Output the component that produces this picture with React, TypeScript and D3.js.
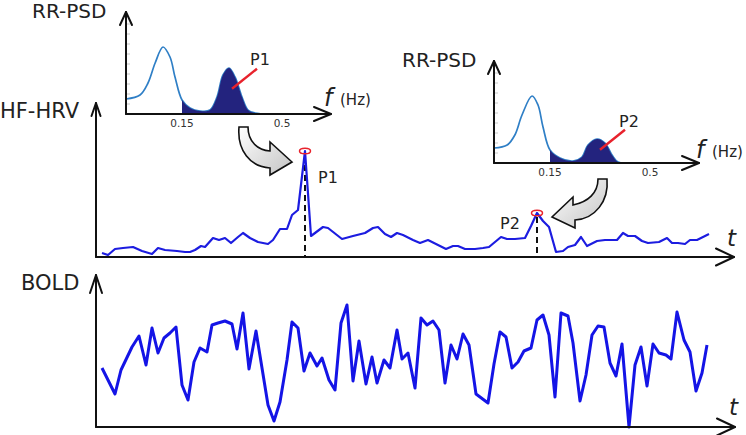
import React from "react";
import * as d3 from "d3";

// ---------- data ----------
const hrvTime = [6,12,19,27,37,46,56,62,69,81,89,94,99,105,109,117,123,129,135,142,147,154,162,172,177,184,191,196,202,209,215,227,232,246,257,269,277,282,289,295,301,307,317,324,332,342,350,357,362,369,379,387,393,399,405,411,419,429,435,441,447,453,460,467,472,479,485,491,501,509,521,527,532,539,546,552,563,571,576,582,589,594,601,607,613];
const hrvValue = [4,2,8,9,10,6,3,9,7,6,5,5,7,11,10,19,17,19,14,20,24,19,15,13,17,28,28,42,47,106,21,30,29,18,21,24,29,30,23,20,24,22,17,14,17,12,8,11,11,8,8,9,10,15,20,18,18,19,31,44,36,30,5,6,10,12,20,11,16,17,17,24,21,21,16,14,15,19,14,14,13,17,17,20,23];

const boldTime = [6,19,25,36,43,50,56,62,68,74,80,86,92,98,104,111,116,122,129,136,141,147,153,160,166,172,178,184,191,196,202,208,214,221,226,233,239,245,251,257,263,270,276,281,288,294,301,306,312,319,325,331,337,343,349,355,361,367,373,380,392,398,404,410,416,422,428,435,441,447,453,459,465,472,477,484,490,496,502,508,514,520,526,533,539,545,551,557,563,570,575,581,588,594,600,606,611];
const boldValue = [59,33,57,80,91,62,99,74,89,94,100,42,27,65,79,75,102,104,106,103,78,114,58,96,59,22,6,25,67,105,99,56,74,61,69,47,37,104,122,46,86,43,70,44,67,59,97,68,74,39,109,102,106,97,44,82,68,93,82,33,24,63,95,90,59,65,76,79,107,112,92,30,114,111,84,26,52,92,101,100,64,51,83,0,62,80,41,83,74,72,68,115,87,75,36,54,82];

const peakTimes = [209, 441]; // P1, P2
const peakLabels = ["P1", "P2"];

const psd1Freq = [-0.046,0.003,0.031,0.056,0.0835,0.108,0.1255,0.15,0.178,0.213,0.248,0.2725,0.2935,0.3145,0.3355,0.36,0.381,0.4055,0.479,0.62];
const psd1Power = [15,19,31,51,67,57,37,14,6,3,4,17,39,46,37,17,4,1,0,0];
const psd2Freq = [-0.046,0.0,0.027,0.052,0.087,0.108,0.1255,0.15,0.185,0.2305,0.262,0.283,0.3145,0.3425,0.367,0.388,0.43,0.62];
const psd2Power = [15,18,28,48,67,58,36,13,5,2,6,18,24,20,8,1,0,0];

const freqTicks = [0.15, 0.5];
const hfBand = [0.15, 0.62];

// ---------- helpers ----------
const TEXT = "#222";
const FONT = "DejaVu Sans, Verdana, sans-serif";

function Arrow({ x1, y1, x2, y2, len, half }: any) {
  const dx = x2 - x1, dy = y2 - y1;
  const L = Math.hypot(dx, dy);
  const ux = dx / L, uy = dy / L;
  const bx = x2 - ux * len, by = y2 - uy * len;
  const px = -uy * half, py = ux * half;
  return (
    <g stroke="#111" strokeWidth={2} fill="none" strokeLinecap="round" strokeLinejoin="round">
      <line x1={x1} y1={y1} x2={x2} y2={y2} />
      <polyline points={`${bx + px},${by + py} ${x2},${y2} ${bx - px},${by - py}`} />
    </g>
  );
}

function PsdInset({ ox, oy, freq, power, peakLabel, labelPos, xyLabel }: any) {
  const fx = d3.scaleLinear().domain([0.15, 0.5]).range([ox + 56, ox + 156]);
  const py = d3.scaleLinear().domain([0, 100]).range([oy, oy - 100]);
  const pts: [number, number][] = freq.map((f: number, i: number) => [f, power[i]]);
  const line = d3.line<[number, number]>().x(d => fx(d[0])).y(d => py(d[1])).curve(d3.curveCatmullRom.alpha(0.5));
  const area = d3.area<[number, number]>().x(d => fx(d[0])).y0(py(0)).y1(d => py(d[1])).curve(d3.curveCatmullRom.alpha(0.5));
  const clipId = `clip-${ox}`;
  const hf = pts.filter(p => p[0] > 0.2);
  const pk = hf.reduce((a, b) => (b[1] > a[1] ? b : a));
  const px0 = fx(pk[0]) + 3, py0 = py(pk[1] * 0.55);
  return (
    <g>
      <defs>
        <clipPath id={clipId}>
          <rect x={fx(hfBand[0])} y={oy - 110} width={fx(hfBand[1]) - fx(hfBand[0])} height={110} />
        </clipPath>
      </defs>
      {py.ticks(10).filter(t => t > 0 && t < 100).map(t => (
        <line key={t} x1={ox} x2={ox + 4} y1={py(t)} y2={py(t)} stroke="#bbb" strokeWidth={0.8} />
      ))}
      <path d={line(pts) || ""} fill="none" stroke="#2f7fc6" strokeWidth={1.7} />
      <path d={area(pts) || ""} fill="#23237e" clipPath={`url(#${clipId})`} />
      <line x1={px0} y1={py0} x2={px0 + 25} y2={py0 - 20} stroke="#e8222c" strokeWidth={2.4} />
      <text x={labelPos[0]} y={labelPos[1]} fontSize={16} fill={TEXT} fontFamily={FONT}>{peakLabel}</text>
      <Arrow x1={ox} y1={oy} x2={ox} y2={oy - 102} len={13} half={6} />
      <Arrow x1={ox} y1={oy} x2={ox + 205} y2={oy} len={17} half={7} />
      {freqTicks.map(t => (
        <text key={t} x={fx(t)} y={oy + 13} fontSize={10.5} textAnchor="middle" fill="#333" fontFamily={FONT}>{t}</text>
      ))}
      <text x={xyLabel[0]} y={xyLabel[1]} fontSize={24} fontStyle="italic" fill={TEXT} fontFamily={FONT}>f</text>
      <text x={xyLabel[0] + 16} y={xyLabel[1] - 1} fontSize={15} fill={TEXT} fontFamily={FONT}>(Hz)</text>
    </g>
  );
}

export default function App() {
  const W = 746, H = 435;
  const xT = d3.scaleLinear().domain([0, 640]).range([96, 736]);
  const yH = d3.scaleLinear().domain([0, 180]).range([257, 77]);
  const yB = d3.scaleLinear().domain([0, 150]).range([427, 277]);

  const hrvPts: [number, number][] = hrvTime.map((t, i) => [t, hrvValue[i]]);
  const boldPts: [number, number][] = boldTime.map((t, i) => [t, boldValue[i]]);
  const hrvLine = d3.line<[number, number]>().x(d => xT(d[0])).y(d => yH(d[1]));
  const boldLine = d3.line<[number, number]>().x(d => xT(d[0])).y(d => yB(d[1]));

  const peaks = peakTimes.map(t => {
    const i = hrvTime.indexOf(t);
    return { x: xT(t), y: yH(hrvValue[i]) };
  });

  return (
    <div style={{ position: "absolute", left: 0, top: 0 }}>
      <svg width={W} height={H} style={{ display: "block" }}>
        <defs>
          <linearGradient id="arrowGrad" x1="0" y1="0" x2="1" y2="1">
            <stop offset="0" stopColor="#ffffff" />
            <stop offset="1" stopColor="#c4c4c4" />
          </linearGradient>
        </defs>
        <rect width={W} height={H} fill="#fff" />

        {/* Insets */}
        <text x={32} y={18} fontSize={20} fill={TEXT} fontFamily={FONT}>RR-PSD</text>
        <PsdInset ox={126} oy={114} freq={psd1Freq} power={psd1Power} peakLabel="P1" labelPos={[250, 65]} xyLabel={[324, 106]} />
        <text x={402} y={67} fontSize={20} fill={TEXT} fontFamily={FONT}>RR-PSD</text>
        <PsdInset ox={494} oy={163} freq={psd2Freq} power={psd2Power} peakLabel="P2" labelPos={[619, 127]} xyLabel={[696, 158]} />

        {/* HF-HRV panel */}
        <text x={0} y={118} fontSize={21} fill={TEXT} fontFamily={FONT}>HF-HRV</text>
        {peaks.map((p, i) => (
          <line key={i} x1={p.x} y1={p.y + 4} x2={p.x} y2={yH(0)} stroke="#111" strokeWidth={2} strokeDasharray="6,4" />
        ))}
        <path d={hrvLine(hrvPts) || ""} fill="none" stroke="#1c1ce0" strokeWidth={2.2} strokeLinejoin="round" />
        {peaks.map((p, i) => (
          <ellipse key={i} cx={p.x} cy={p.y} rx={5.5} ry={2.8} fill="none" stroke="#e8222c" strokeWidth={1.5} />
        ))}
        <text x={peaks[0].x + 13} y={183} fontSize={16} fill={TEXT} fontFamily={FONT}>{peakLabels[0]}</text>
        <text x={peaks[1].x - 37} y={229} fontSize={16} fill={TEXT} fontFamily={FONT}>{peakLabels[1]}</text>
        <Arrow x1={96} y1={257} x2={96} y2={103} len={13} half={4.5} />
        <Arrow x1={96} y1={257} x2={734} y2={257} len={18} half={8.5} />
        <text x={727} y={246} fontSize={23} fontStyle="italic" fill={TEXT} fontFamily={FONT}>t</text>

        {/* curved arrows */}
        <path d="M 239,127 C 237,150 250,167 270,168 L 270,175 L 292,162 L 270,142 L 270,151 C 258,150 248,142 248,127 Z"
          fill="url(#arrowGrad)" stroke="#111" strokeWidth={1.6} strokeLinejoin="miter" />
        <path d="M 607,179 C 609,201 595,219 575,220 L 575,228 L 552,217 L 573,197 L 573,205 C 588,202 598,193 598,179 Z"
          fill="url(#arrowGrad)" stroke="#111" strokeWidth={1.6} strokeLinejoin="miter" />

        {/* BOLD panel */}
        <text x={21} y={290} fontSize={21} fill={TEXT} fontFamily={FONT}>BOLD</text>
        <path d={boldLine(boldPts) || ""} fill="none" stroke="#1414e6" strokeWidth={3} strokeLinejoin="round" />
        <Arrow x1={96} y1={427} x2={96} y2={275} len={18} half={6} />
        <Arrow x1={96} y1={427} x2={735} y2={427} len={18} half={8.5} />
        <text x={729} y={415} fontSize={23} fontStyle="italic" fill={TEXT} fontFamily={FONT}>t</text>
      </svg>
    </div>
  );
}
